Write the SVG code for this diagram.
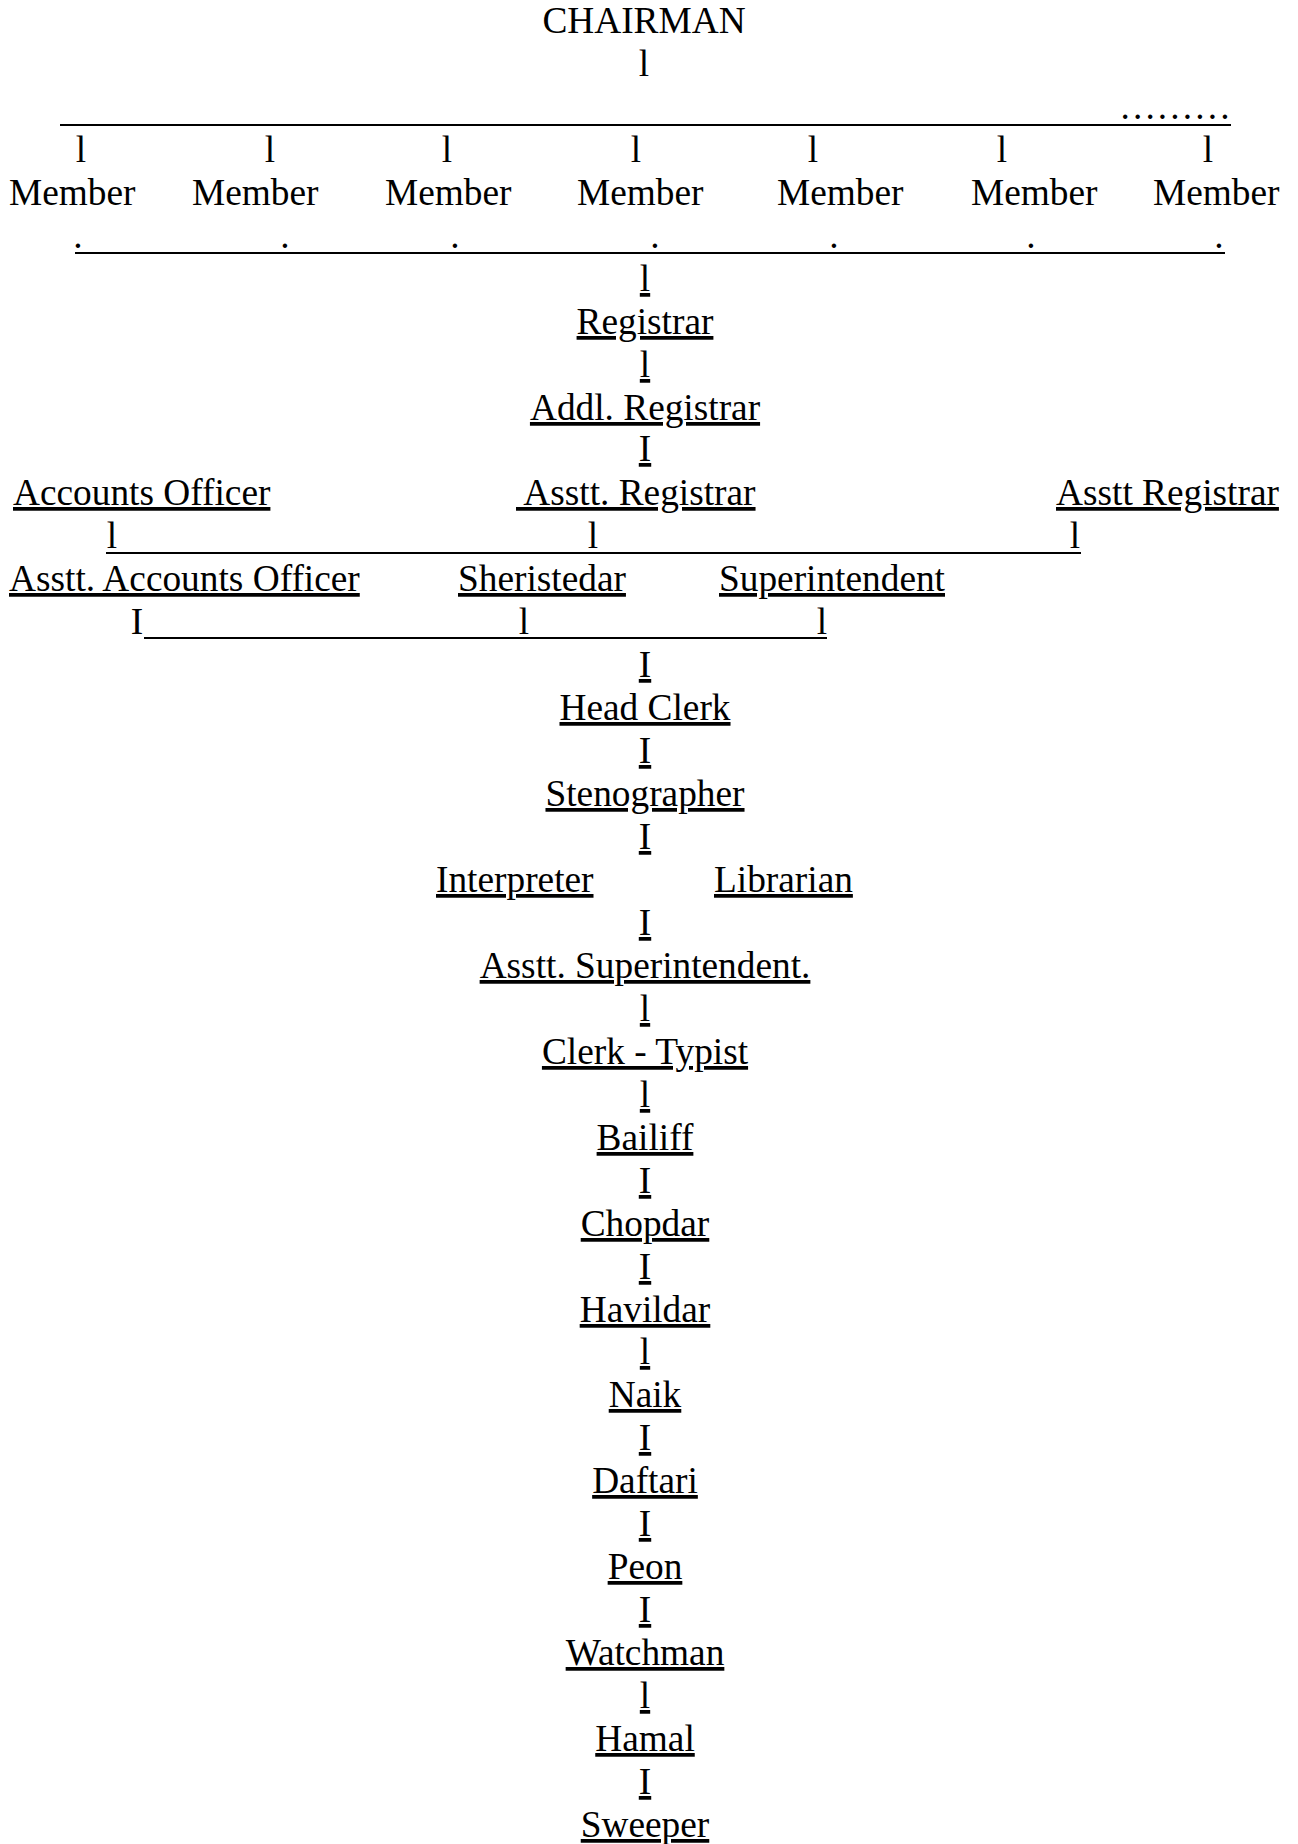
<svg xmlns="http://www.w3.org/2000/svg" width="1298" height="1844" viewBox="0 0 1298 1844">
<style>
text{font-family:"Liberation Serif","Times New Roman",serif;font-size:37.33px;fill:#000}
.c{text-anchor:middle}
.u{text-decoration:underline}
.ln{stroke:#000;stroke-width:1.9;fill:none}
</style>
<rect width="1298" height="1844" fill="#fff"/>
<g id="connectors">
<text class="c" x="644" y="76">l</text>
<text x="1119" y="119">………</text>
<line class="ln" x1="60" y1="125" x2="1231" y2="125"/>
<text class="c" x="81" y="162">l</text>
<text class="c" x="270" y="162">l</text>
<text class="c" x="447" y="162">l</text>
<text class="c" x="636" y="162">l</text>
<text class="c" x="813" y="162">l</text>
<text class="c" x="1002" y="162">l</text>
<text class="c" x="1208" y="162">l</text>
<text class="c" x="78" y="248">.</text>
<text class="c" x="285" y="248">.</text>
<text class="c" x="455" y="248">.</text>
<text class="c" x="655" y="248">.</text>
<text class="c" x="834" y="248">.</text>
<text class="c" x="1031" y="248">.</text>
<text class="c" x="1219" y="248">.</text>
<line class="ln" x1="75" y1="253" x2="1225" y2="253"/>
<text class="c u" x="645" y="291">l</text>
<text class="c u" x="645" y="377">l</text>
<text class="c u" x="645" y="461">I</text>
<text class="c" x="112" y="548">l</text>
<text class="c" x="593" y="548">l</text>
<text class="c" x="1075" y="548">l</text>
<line class="ln" x1="106" y1="553" x2="1081" y2="553"/>
<text class="c" x="137" y="634">I</text>
<text class="c" x="524" y="634">l</text>
<text class="c" x="822" y="634">l</text>
<line class="ln" x1="144" y1="638" x2="827" y2="638"/>
<text class="c u" x="645" y="677">I</text>
<text class="c u" x="645" y="763">I</text>
<text class="c u" x="645" y="849">I</text>
<text class="c u" x="645" y="935">I</text>
<text class="c u" x="645" y="1021">l</text>
<text class="c u" x="645" y="1107">l</text>
<text class="c u" x="645" y="1193">I</text>
<text class="c u" x="645" y="1279">I</text>
<text class="c u" x="645" y="1364">l</text>
<text class="c u" x="645" y="1450">I</text>
<text class="c u" x="645" y="1536">I</text>
<text class="c u" x="645" y="1622">I</text>
<text class="c u" x="645" y="1708">l</text>
<text class="c u" x="645" y="1794">I</text>
</g>
<g id="chairman"><text class="c" x="644" y="33">CHAIRMAN</text></g>
<g id="member1"><text x="9" y="205">Member</text></g>
<g id="member2"><text x="192" y="205">Member</text></g>
<g id="member3"><text x="385" y="205">Member</text></g>
<g id="member4"><text x="577" y="205">Member</text></g>
<g id="member5"><text x="777" y="205">Member</text></g>
<g id="member6"><text x="971" y="205">Member</text></g>
<g id="member7"><text x="1153" y="205">Member</text></g>
<g id="registrar"><text class="c u" x="645" y="334">Registrar</text></g>
<g id="addl-registrar"><text class="c u" x="645" y="420">Addl. Registrar</text></g>
<g id="accounts-officer"><text class="u" x="13" y="505">Accounts Officer</text></g>
<g id="asstt-registrar"><text class="u" x="516" y="505" xml:space="preserve"> Asstt. Registrar</text></g>
<g id="asstt-registrar-2"><text class="u" x="1056" y="505">Asstt Registrar</text></g>
<g id="asstt-accounts-officer"><text class="u" x="9" y="591">Asstt. Accounts Officer</text></g>
<g id="sheristedar"><text class="u" x="458" y="591">Sheristedar</text></g>
<g id="superintendent"><text class="u" x="719" y="591">Superintendent</text></g>
<g id="head-clerk"><text class="c u" x="645" y="720">Head Clerk</text></g>
<g id="stenographer"><text class="c u" x="645" y="806">Stenographer</text></g>
<g id="interpreter"><text class="u" x="436" y="892">Interpreter</text></g>
<g id="librarian"><text class="u" x="714" y="892">Librarian</text></g>
<g id="asstt-superintendent"><text class="c u" x="645" y="978">Asstt. Superintendent.</text></g>
<g id="clerk-typist"><text class="c u" x="645" y="1064">Clerk - Typist</text></g>
<g id="bailiff"><text class="c u" x="645" y="1150">Bailiff</text></g>
<g id="chopdar"><text class="c u" x="645" y="1236">Chopdar</text></g>
<g id="havildar"><text class="c u" x="645" y="1322">Havildar</text></g>
<g id="naik"><text class="c u" x="645" y="1407">Naik</text></g>
<g id="daftari"><text class="c u" x="645" y="1493">Daftari</text></g>
<g id="peon"><text class="c u" x="645" y="1579">Peon</text></g>
<g id="watchman"><text class="c u" x="645" y="1665">Watchman</text></g>
<g id="hamal"><text class="c u" x="645" y="1751">Hamal</text></g>
<g id="sweeper"><text class="c u" x="645" y="1837">Sweeper</text></g>
</svg>
